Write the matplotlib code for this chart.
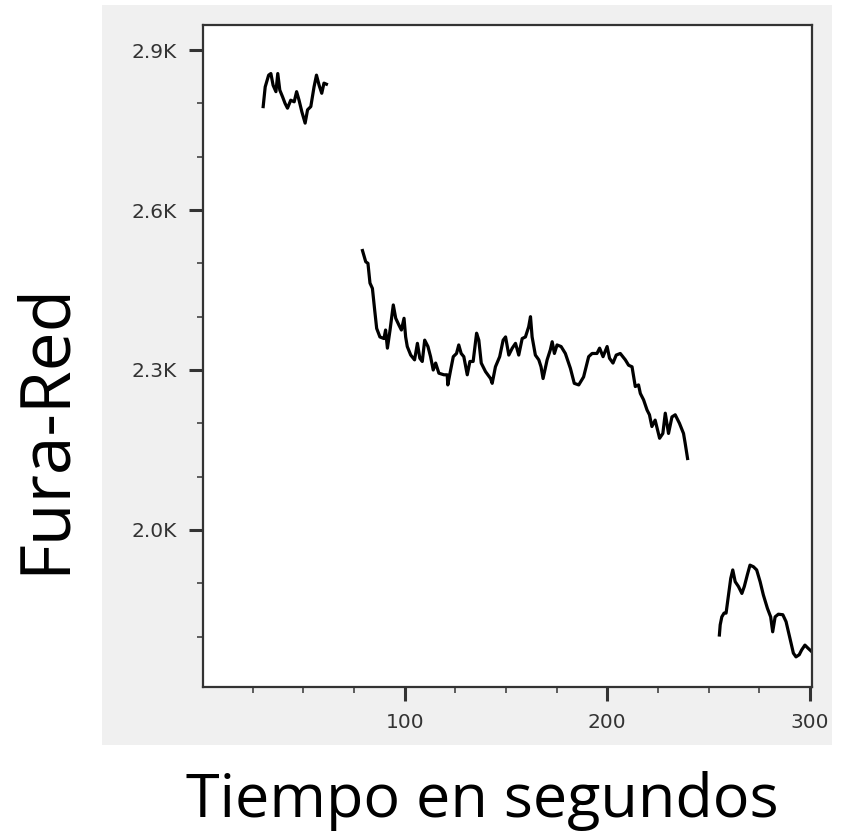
import matplotlib.pyplot as plt
from matplotlib.patches import Rectangle
from matplotlib.ticker import FuncFormatter, MultipleLocator, FixedLocator

# Data (time in s, value in counts)

seg1_t = [30.2, 31.2, 32.9, 34.0, 35.1, 36.5, 37.4, 38.4, 39.8, 41.0, 42.2, 43.8, 45.5,
          46.7, 47.9, 49.3, 50.9, 52.1, 53.7, 55.3, 56.5, 57.8, 59.1, 60.2, 61.4]
seg1_v = [2794, 2831, 2853, 2856, 2834, 2822, 2856, 2825, 2812, 2800, 2791, 2806, 2803,
          2822, 2806, 2784, 2763, 2788, 2794, 2831, 2853, 2834, 2819, 2838, 2836]

seg2_t = [79.2, 80.8, 81.9, 82.9, 84.1, 85.2, 86.2, 87.8, 89.8, 90.6, 91.5, 92.8, 94.4,
          95.6, 97.2, 98.4, 99.7, 100.5, 101.3, 103.0, 104.9, 106.3, 107.5, 108.7, 109.9,
          111.5, 112.8, 114.1, 115.3, 116.9, 119.4, 121.0, 121.3, 122.7, 124.0, 125.6,
          126.7, 127.9, 129.2, 130.9, 132.2, 133.8, 135.5, 136.6, 137.8, 139.9, 142.4,
          143.2, 144.8, 146.9, 148.6, 149.8, 151.4, 153.1, 154.7, 156.3, 158.0, 159.6,
          161.2, 162.1, 162.9, 164.5, 166.2, 167.3, 168.3, 170.3, 171.9, 172.8, 173.9,
          175.2, 177.2, 179.3, 181.8, 183.7, 185.9, 188.3, 190.8, 192.5, 194.9, 196.2,
          197.9, 199.9, 201.1, 202.8, 204.4, 206.4, 208.9, 210.5, 212.2, 213.8, 215.4,
          216.3, 217.9, 219.6, 220.8, 222.0, 223.6, 225.8, 227.4, 228.6, 230.2, 231.9,
          233.5, 235.6, 237.6, 238.4, 239.6]
seg2_v = [2524, 2503, 2500, 2463, 2453, 2413, 2378, 2362, 2359, 2375, 2341, 2375, 2422,
          2397, 2384, 2375, 2397, 2362, 2344, 2328, 2319, 2350, 2322, 2316, 2356,
          2344, 2325, 2300, 2313, 2294, 2291, 2291, 2272, 2300, 2325, 2331,
          2347, 2331, 2325, 2291, 2316, 2316, 2369, 2356, 2313, 2297, 2284,
          2275, 2306, 2325, 2356, 2362, 2328, 2341, 2350, 2328, 2359, 2362,
          2381, 2400, 2362, 2328, 2319, 2306, 2284, 2319, 2338, 2353, 2331,
          2347, 2344, 2331, 2303, 2275, 2272, 2287, 2325, 2331, 2331, 2341,
          2325, 2344, 2322, 2313, 2328, 2331, 2319, 2309, 2306, 2269, 2272,
          2256, 2244, 2225, 2216, 2194, 2206, 2172, 2181, 2219, 2181, 2212,
          2216, 2200, 2181, 2163, 2134]

seg3_t = [255.3, 255.7, 256.5, 257.6, 258.6, 259.8, 260.9, 261.9, 263.1, 264.7, 266.4,
          267.6, 269.1, 270.4, 272.1, 273.7, 275.4, 277.0, 279.0, 280.6, 281.6, 282.8,
          284.4, 286.6, 288.2, 290.1, 291.8, 293.1, 294.7, 295.9, 297.5, 299.1, 300.8]
seg3_v = [1803, 1822, 1837, 1844, 1844, 1878, 1909, 1925, 1903, 1894, 1881,
          1894, 1916, 1934, 1931, 1925, 1903, 1878, 1853, 1837, 1809, 1837,
          1842, 1841, 1828, 1797, 1769, 1762, 1766, 1775, 1784, 1778, 1772]

x_major = [100, 200, 300]
y_major = [2000, 2300, 2600, 2900]

fig = plt.figure(figsize=(8.5, 8.34), dpi=100)

# grey panel behind the plot
fig.patches.append(Rectangle((0.12, 0.107), 0.859, 0.887, transform=fig.transFigure,
                             facecolor='#f0f0f0', edgecolor='none', zorder=-1))

ax = fig.add_axes([0.2388, 0.1766, 0.7165, 0.7934])
ax.set_facecolor('white')

for t, v in [(seg1_t, seg1_v), (seg2_t, seg2_v), (seg3_t, seg3_v)]:
    ax.plot(t, v, color='black', linewidth=2.3, solid_joinstyle='round')

ax.set_xlim(0.5, 301)
ax.set_ylim(1706, 2947)

ax.xaxis.set_major_locator(FixedLocator(x_major))
ax.xaxis.set_minor_locator(MultipleLocator(25))
ax.yaxis.set_major_locator(FixedLocator(y_major))
ax.yaxis.set_minor_locator(MultipleLocator(100))
ax.yaxis.set_major_formatter(FuncFormatter(lambda v, p: '%.1fK' % (v / 1000)))

for s in ax.spines.values():
    s.set_color('#333333')
    s.set_linewidth(1.6)

ax.tick_params(which='major', length=10, width=2.2, color='#333333',
               labelsize=14.5, labelcolor='#333333', pad=9)
ax.tick_params(which='minor', length=4.5, width=1.1, color='#333333')

fig.text(0.054, 0.487, 'Fura-Red', rotation=90, ha='center', va='center',
         fontsize=50, family='Open Sans', color='black')
fig.text(0.568, 0.04, 'Tiempo en segundos', ha='center', va='center',
         fontsize=44, family='Open Sans', color='black')

fig.savefig('out.png', dpi=100)
